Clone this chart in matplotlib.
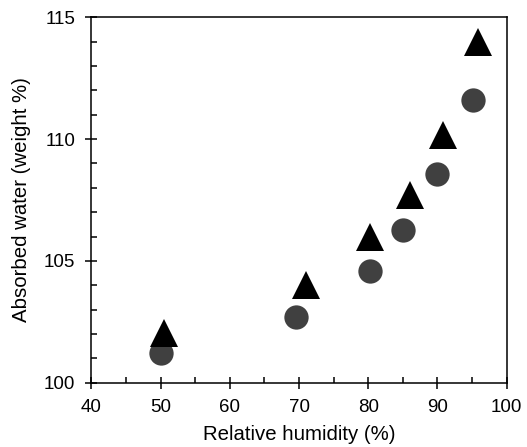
import numpy as np
import matplotlib
matplotlib.use('Agg')
import matplotlib.pyplot as plt
from matplotlib.ticker import MultipleLocator

plt.rcParams['font.family'] = ['Liberation Sans', 'DejaVu Sans']

# circles (grey)
rh_circle = [50.1, 69.5, 80.2, 85.0, 90.0, 95.2]
water_circle = [101.2, 102.7, 104.6, 106.25, 108.55, 111.6]

# triangles (black)
rh_tri = [50.5, 71.0, 80.2, 86.0, 90.8, 95.9]
water_tri = [102.05, 104.0, 106.0, 107.7, 110.15, 114.0]

fig = plt.figure(figsize=(5.27, 4.47), dpi=100)
ax = fig.add_axes([91.3/527, 1 - 382.7/447, 415.4/527, 365.4/447])

ax.plot(rh_circle, water_circle, linestyle='none', marker='o', markersize=17.5,
        color='#404040', markeredgewidth=0, zorder=3, clip_on=False)
ax.plot(rh_tri, water_tri, linestyle='none', marker='^', markersize=19.5,
        color='black', markeredgewidth=0, zorder=3, clip_on=False)

ax.set_xlim(40, 100)
ax.set_ylim(100, 115)
ax.xaxis.set_major_locator(MultipleLocator(10))
ax.xaxis.set_minor_locator(MultipleLocator(5))
ax.yaxis.set_major_locator(MultipleLocator(5))
ax.yaxis.set_minor_locator(MultipleLocator(1))

ax.tick_params(which='major', direction='inout', length=8, width=1.1,
               labelsize=13.5, colors='black', pad=7.5)
ax.tick_params(which='minor', direction='in', length=4, width=1.1)
ax.tick_params(axis='both', which='both', top=False, right=False)
for s in ax.spines.values():
    s.set_linewidth(1.1)

ax.set_xlabel('Relative humidity (%)', fontsize=14.7, labelpad=7)
ax.set_ylabel('Absorbed water (weight %)', fontsize=14.7, labelpad=9)

fig.savefig('out.png', dpi=100)
